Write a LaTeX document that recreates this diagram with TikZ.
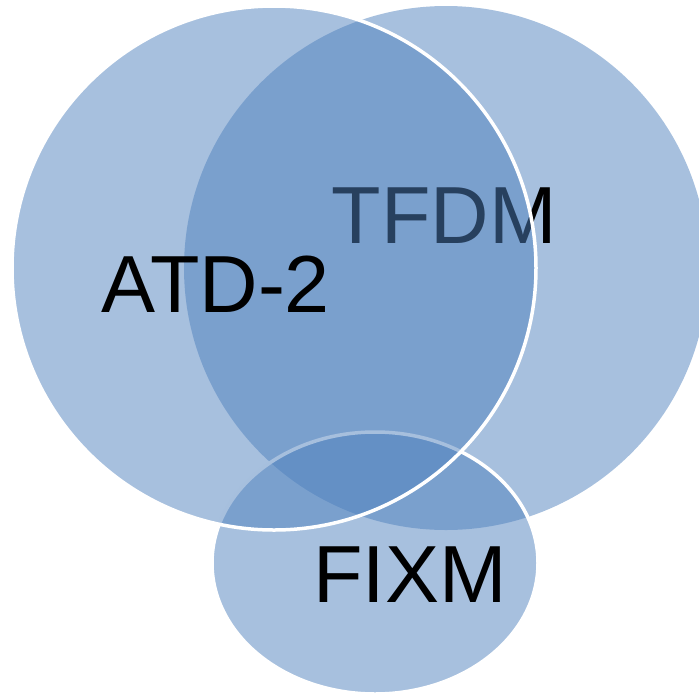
\documentclass[tikz,border=0pt]{standalone}
\usepackage{fontspec}
\setmainfont{Liberation Sans}
\definecolor{vennblue}{RGB}{79,129,189}
\tikzset{
	vennset/.style={fill=vennblue, fill opacity=0.5},
	vennrim/.style={draw=white, line width=3.5pt},
	vennlabel/.style={anchor=base, inner sep=0pt, text=black, font=\fontsize{81}{90}\selectfont}
}
\begin{document}
\begin{tikzpicture}[x=1pt, y=-1pt]
	\useasboundingbox (0,0) rectangle (699,694);
	\clip (0,0) rectangle (699,694);
	
	\fill[vennset] (446,268) circle [radius=262pt];
	\node[vennlabel] (tfdm) at (444,243) {TFDM};
	
	\draw[vennset, vennrim] (375,563) ellipse [x radius=163pt, y radius=131pt];
	
	\draw[vennset, vennrim] (274,268) circle [radius=262pt];
	\node[vennlabel] (atd) at (216,312) {ATD-2};
	\node[vennlabel] (fixm) at (410,602) {FIXM};
	
	%\node at (375,470) {core};
\end{tikzpicture}
\end{document}
